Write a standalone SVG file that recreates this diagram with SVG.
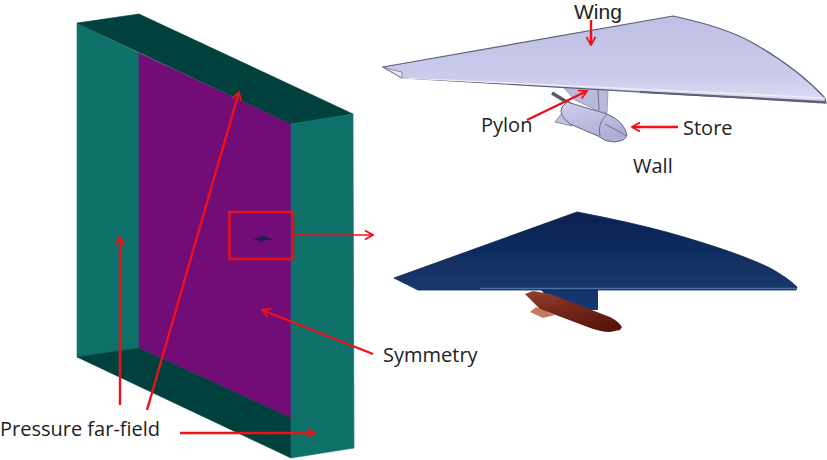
<svg xmlns="http://www.w3.org/2000/svg" width="827" height="460" viewBox="0 0 827 460">
<style>
text{font-family:"Open Sans","Noto Sans","Liberation Sans",sans-serif;font-size:20px;fill:#222}
#wing-label{font-family:"Liberation Sans",sans-serif;font-size:21px}
.c{fill:none;stroke:#f01018;stroke-width:2.400}
.e{fill:none;stroke:#6e6e88;stroke-width:1}
.g{stroke-width:.6}
</style>
<defs>
<filter id="f" x="-2%" y="-2%" width="104%" height="104%"><feGaussianBlur stdDeviation=".4"/></filter>
<linearGradient id="w" x1="0" y1="0" x2="0" y2="1"><stop offset="0" stop-color="#bfbfe4"/><stop offset=".7" stop-color="#cbcbec"/><stop offset="1" stop-color="#dedef2"/></linearGradient>
<linearGradient id="d" x1="0" y1="0" x2="0" y2="1"><stop offset="0" stop-color="#0b2050"/><stop offset="1" stop-color="#16386c"/></linearGradient>
<linearGradient id="s" x1="0" y1="0" x2=".35" y2="1"><stop offset="0" stop-color="#8f4230"/><stop offset=".5" stop-color="#78281a"/><stop offset="1" stop-color="#5a180e"/></linearGradient>
<linearGradient id="b" x1="0" y1="0" x2=".4" y2="1"><stop offset="0" stop-color="#cfcfee"/><stop offset="1" stop-color="#aeaed6"/></linearGradient>
<marker id="a" viewBox="0 0 10 10" refX="9" refY="5" markerWidth="10" markerHeight="10" orient="auto" markerUnits="userSpaceOnUse"><path d="M1 .5L9 5L1 9.500" fill="none" stroke="#f01018" stroke-width="1.800"/></marker>
</defs>
<g id="domain" filter="url(#f)">
<polygon class="g" points="77,23 139,53 139,348 77,357" fill="#10716b" stroke="#10716b"/>
<polygon class="g" points="139,53 291,124 291,418 139,348" fill="#720a78" stroke="#720a78"/>
<polygon class="g" points="77,23 139,14 353,114 291,124" fill="#06403d" stroke="#06403d"/>
<polygon class="g" points="77,357 139,348 291,418 291,458" fill="#06403d" stroke="#06403d"/>
<polygon class="g" points="291,124 353,114 354,448 291,458" fill="#10716b" stroke="#10716b"/>
<polygon points="253,239 261,237 264,236 273,240 265,240 261,242 258,240" fill="#12204c"/>
</g>
<g id="wall-model" filter="url(#f)">
<path d="M563,87L608,90L607,113L596,110L575,100Z" fill="#b9b9dc" stroke="#8f8fb0" stroke-width=".8"/>
<path d="M598,90L599,110" class="e"/>
<path d="M552,93L575,107" stroke="#55556a" stroke-width="3.500" fill="none"/>
<path d="M562,113L555,122L572,126L570,118Z" fill="#c4c4e2" stroke="#77778f" stroke-width=".8"/>
<path d="M567,102L607,114Q624,121 627,135Q626,141 614,142Q605,142 598,136L570,124Q558,115 562,107Z" fill="url(#b)" stroke="#66667f" stroke-width="1"/>
<path d="M607,114Q597,124 600,136M605,124L627,136" class="e"/>
<path d="M383,67L673,16Q725,27 753,43Q797,68 825,98L826,103Q600,90 402,78Z" fill="url(#w)" stroke="#5f5f78" stroke-width="1.200"/>
<path d="M402,78Q600,87 826,98" fill="none" stroke="#f0f0fa" stroke-width="1.200"/>
<path d="M640,92Q740,97 826,102" fill="none" stroke="#5f5f78" stroke-width="2"/>
<path d="M383,67Q392,70 402,72L402,78Z" fill="#e6e6f4" stroke="#77778f" stroke-width=".8"/>
</g>
<g id="pressure-model" filter="url(#f)">
<path d="M540,289H598V310H560Z" fill="#123570"/>
<path d="M394,278L577,212Q630,222 670,233Q737,252 770,268Q788,278 797,287L796,290H418Z" fill="url(#d)" stroke="#0d2350" stroke-width=".8"/>
<path d="M480,288.500H796" stroke="#4a6fa0" stroke-width="1.600" fill="none"/>
<path d="M530,312L536,307L555,315L543,318Z" fill="#c67a62"/>
<path d="M525,294L533,291L550,294L610,317Q618,321 622,327L620,330L610,332Q600,332 585,326L540,309Z" fill="url(#s)"/>
</g>
<g id="labels">
<text id="wing-label" x="574" y="19">Wing</text>
<text x="481" y="132">Pylon</text>
<text x="683" y="135">Store</text>
<text x="633" y="173">Wall</text>
<text x="383" y="362">Symmetry</text>
<text x="0" y="436">Pressure far-field</text>
</g>
<g id="connectors">
<rect x="229.500" y="212" width="63.500" height="47" fill="none" stroke="#e8101c" stroke-width="2.500"/>
<path class="c" d="M293,235H373" marker-end="url(#a)" style="stroke-width:1.500"/>
<path class="c" d="M120,405V237" marker-end="url(#a)"/>
<path class="c" d="M147,410L239,92" marker-end="url(#a)"/>
<path class="c" d="M373,354L262,310" marker-end="url(#a)"/>
<path class="c" d="M180,433H315" marker-end="url(#a)"/>
<path class="c" d="M591,20V45" marker-end="url(#a)"/>
<path class="c" d="M527,120L587,91" marker-end="url(#a)"/>
<path class="c" d="M678,127H632" marker-end="url(#a)"/>
</g>
</svg>
